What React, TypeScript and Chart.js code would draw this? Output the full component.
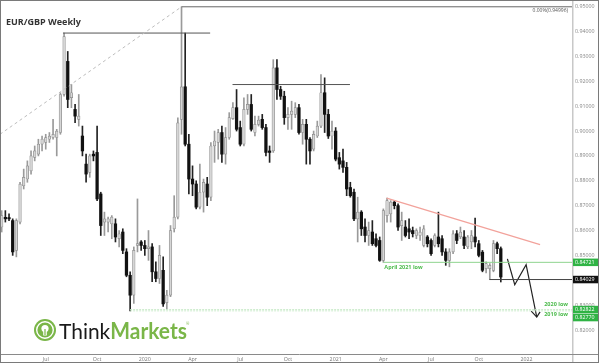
import React, { useEffect, useRef } from "react";
import { Chart, registerables } from "chart.js";

Chart.register(...registerables);

// Weekly EUR/GBP candles (index 0 = week of 8 Apr 2019)
const opens = [
  0.8614, 0.8653, 0.8652, 0.8640, 0.8520, 0.8634, 0.8780, 0.8807, 0.8840, 0.8894,
  0.8907, 0.8947, 0.8954, 0.8967, 0.8974, 0.8974, 0.8994, 0.9147, 0.9280, 0.9134,
  0.9087, 0.9047, 0.8980, 0.8867, 0.8834, 0.8907, 0.8914, 0.8747, 0.8634, 0.8634,
  0.8627, 0.8627, 0.8567, 0.8594, 0.8514, 0.8420, 0.8340, 0.8540, 0.8554, 0.8540,
  0.8527, 0.8534, 0.8434, 0.8407, 0.8440, 0.8310, 0.8340, 0.8607, 0.8654, 0.9047,
  0.9178, 0.8947, 0.8807, 0.8787, 0.8694, 0.8754, 0.8787, 0.8734, 0.8940, 0.8954,
  0.8994, 0.8907, 0.8974, 0.9050, 0.9094, 0.9014, 0.8947, 0.9087, 0.9107, 0.8994,
  0.9027, 0.9047, 0.9014, 0.8920, 0.8920, 0.9254, 0.9167, 0.9140, 0.9054, 0.9067,
  0.9067, 0.9094, 0.8994, 0.9027, 0.8967, 0.8927, 0.8980, 0.9020, 0.9154, 0.9067,
  0.8980, 0.9000, 0.8893, 0.8880, 0.8854, 0.8773, 0.8754, 0.8647, 0.8674, 0.8614,
  0.8580, 0.8594, 0.8567, 0.8560, 0.8480, 0.8660, 0.8667, 0.8714, 0.8700, 0.8620,
  0.8614, 0.8607, 0.8600, 0.8580, 0.8580, 0.8540, 0.8574, 0.8560, 0.8540, 0.8574,
  0.8567, 0.8514, 0.8480, 0.8514, 0.8587, 0.8574, 0.8574, 0.8534, 0.8554, 0.8574,
  0.8547, 0.8513, 0.8447, 0.8447, 0.8440, 0.8547, 0.8527,
];
const highs = [
  0.8680, 0.8680, 0.8667, 0.8647, 0.8647, 0.8794, 0.8847, 0.8880, 0.8920, 0.8940,
  0.8967, 0.8980, 0.8987, 0.8994, 0.9047, 0.9007, 0.9154, 0.9394, 0.9320, 0.9187,
  0.9107, 0.9147, 0.9020, 0.8907, 0.8907, 0.8920, 0.9020, 0.8754, 0.8674, 0.8654,
  0.8660, 0.8647, 0.8600, 0.8607, 0.8527, 0.8434, 0.8534, 0.8727, 0.8560, 0.8560,
  0.8600, 0.8547, 0.8474, 0.8540, 0.8494, 0.8360, 0.8620, 0.8740, 0.9053, 0.94996,
  0.9394, 0.8987, 0.8860, 0.8800, 0.8867, 0.8807, 0.8814, 0.8954, 0.9000, 0.9007,
  0.9020, 0.9014, 0.9074, 0.9114, 0.9167, 0.9040, 0.9134, 0.9147, 0.9147, 0.9060,
  0.9060, 0.9067, 0.9027, 0.8940, 0.9287, 0.9287, 0.9180, 0.9160, 0.9094, 0.9120,
  0.9114, 0.9107, 0.9047, 0.9047, 0.8974, 0.9000, 0.9040, 0.9227, 0.9214, 0.9087,
  0.9040, 0.9014, 0.8914, 0.8927, 0.8874, 0.8794, 0.8767, 0.8734, 0.8680, 0.8647,
  0.8634, 0.8640, 0.8587, 0.8574, 0.8687, 0.8730, 0.8720, 0.8720, 0.8707, 0.8674,
  0.8640, 0.8647, 0.8614, 0.8607, 0.8614, 0.8620, 0.8580, 0.8567, 0.8587, 0.8674,
  0.8580, 0.8527, 0.8527, 0.8600, 0.8600, 0.8614, 0.8600, 0.8580, 0.8600, 0.8650,
  0.8560, 0.8520, 0.8474, 0.8467, 0.8560, 0.8554, 0.8534,
];
const lows = [
  0.8594, 0.8634, 0.8640, 0.8500, 0.8494, 0.8627, 0.8767, 0.8794, 0.8827, 0.8880,
  0.8900, 0.8920, 0.8927, 0.8954, 0.8967, 0.8900, 0.8987, 0.9140, 0.9094, 0.9094,
  0.9034, 0.9020, 0.8900, 0.8794, 0.8814, 0.8880, 0.8720, 0.8580, 0.8580, 0.8594,
  0.8567, 0.8554, 0.8534, 0.8507, 0.8414, 0.8277, 0.8307, 0.8514, 0.8520, 0.8500,
  0.8480, 0.8394, 0.8394, 0.8387, 0.8295, 0.8282, 0.8334, 0.8594, 0.8647, 0.8987,
  0.8940, 0.8747, 0.8740, 0.8687, 0.8687, 0.8674, 0.8700, 0.8720, 0.8874, 0.8887,
  0.8874, 0.8867, 0.8967, 0.9047, 0.9000, 0.8940, 0.8940, 0.9067, 0.9000, 0.8980,
  0.9020, 0.9007, 0.8900, 0.8874, 0.8914, 0.9127, 0.9127, 0.9027, 0.9007, 0.9007,
  0.9054, 0.8987, 0.8947, 0.8867, 0.8867, 0.8920, 0.8974, 0.9014, 0.8994, 0.8970,
  0.8927, 0.8880, 0.8847, 0.8834, 0.8740, 0.8734, 0.8640, 0.8554, 0.8580, 0.8554,
  0.8540, 0.8540, 0.8534, 0.8476, 0.84721, 0.8634, 0.8634, 0.8687, 0.8600, 0.8560,
  0.8574, 0.8567, 0.8574, 0.8567, 0.8560, 0.8534, 0.8534, 0.8500, 0.8534, 0.8534,
  0.8500, 0.8460, 0.8454, 0.8507, 0.8547, 0.8567, 0.8527, 0.8527, 0.8527, 0.8534,
  0.8494, 0.8434, 0.8430, 0.8403, 0.8434, 0.8507, 0.8393,
];
const closes = [
  0.8660, 0.8647, 0.8647, 0.8514, 0.8640, 0.8787, 0.8814, 0.8860, 0.8900, 0.8920,
  0.8947, 0.8967, 0.8974, 0.8980, 0.8987, 0.9000, 0.9147, 0.9380, 0.9127, 0.9154,
  0.9060, 0.9060, 0.8920, 0.8827, 0.8900, 0.8900, 0.8727, 0.8620, 0.8647, 0.8647,
  0.8654, 0.8574, 0.8587, 0.8520, 0.8420, 0.8340, 0.8520, 0.8547, 0.8540, 0.8527,
  0.8534, 0.8434, 0.8407, 0.8500, 0.8305, 0.8340, 0.8600, 0.8654, 0.9033, 0.9178,
  0.8947, 0.8807, 0.8787, 0.8694, 0.8754, 0.8794, 0.8734, 0.8940, 0.8960, 0.8994,
  0.8907, 0.8974, 0.9054, 0.9094, 0.9007, 0.8947, 0.9087, 0.9107, 0.9007, 0.9027,
  0.9044, 0.9014, 0.8914, 0.8914, 0.9254, 0.9167, 0.9140, 0.9054, 0.9067, 0.9080,
  0.9094, 0.8994, 0.9027, 0.8967, 0.8920, 0.8987, 0.9020, 0.9154, 0.9067, 0.8980,
  0.9000, 0.8887, 0.8867, 0.8854, 0.8767, 0.8740, 0.8647, 0.8674, 0.8607, 0.8580,
  0.8600, 0.8547, 0.8540, 0.8480, 0.8680, 0.8720, 0.8714, 0.8700, 0.8614, 0.8640,
  0.8580, 0.8594, 0.8587, 0.8600, 0.8594, 0.8607, 0.8547, 0.8507, 0.8580, 0.8547,
  0.8514, 0.8480, 0.8514, 0.8587, 0.8560, 0.8594, 0.8540, 0.8574, 0.8580, 0.8554,
  0.8500, 0.8440, 0.8467, 0.8460, 0.8547, 0.8527, 0.8413,
];

// Axis ticks
const xTickIdx = [12, 26, 39, 52, 65, 78, 91, 104, 117, 130, 143];
const xTickLabels = ["Jul", "Oct", "2020", "Apr", "Jul", "Oct", "2021", "Apr", "Jul", "Oct", "2022"];
const yTicks = [0.82, 0.83, 0.84, 0.85, 0.86, 0.87, 0.88, 0.89, 0.9, 0.91, 0.92, 0.93, 0.94, 0.95];

// Annotations (data space: x = week index, y = price)
const xMinIdx = -0.46;
const xMaxIdx = 155.4;
const fibLevel = 0.94996;
const fibStart = 49;
const diagonalLine = [{ x: xMinIdx, y: 0.8987 }, { x: 49, y: 0.94996 }];
const high2019Line = [{ x: 16.7, y: 0.9394 }, { x: 56.8, y: 0.9394 }];
const dec2020Line = [{ x: 62.9, y: 0.9187 }, { x: 94.9, y: 0.9187 }];
const trendLine = [{ x: 104.9, y: 0.873 }, { x: 146.7, y: 0.8543 }];
const april2021Low = 0.84721;
const april2021Start = 104;
const recentLow = 0.84029;
const recentLowStart = 132.9;
const low2020 = 0.82822;
const low2019 = 0.8277;
const lowsStart = 35;
const zigzag = [
  { x: 137.8, y: 0.8486 },
  { x: 139.8, y: 0.8382 },
  { x: 142.9, y: 0.8463 },
  { x: 145.8, y: 0.8252 },
];
const arrowHead = [
  { x: 144.3, y: 0.8276 },
  { x: 145.8, y: 0.8252 },
  { x: 146.7, y: 0.8273 },
];
const tagValues = [0.84721, 0.84029, 0.82822, 0.8277];
const tagColors = ["#2fb344", "#111111", "#2fb344", "#2fb344"];

const FONT = "'Open Sans', 'DejaVu Sans', sans-serif";

const hLine = (v: number, x0: number, x1: number) => [
  { x: x0, y: v },
  { x: x1, y: v },
];

const lineDs = (data: any[], color: string, width = 1, dash: number[] = []) => ({
  type: "line" as const,
  data,
  borderColor: color,
  borderWidth: width,
  borderDash: dash,
  pointRadius: 0,
  fill: false,
  tension: 0,
  order: 0,
});

const decor = {
  id: "decor",
  beforeDraw(chart: any) {
    const { ctx, width, height } = chart;
    ctx.save();
    ctx.fillStyle = "#ffffff";
    ctx.fillRect(0, 0, width, height);
    ctx.restore();
  },
  afterDraw(chart: any) {
    const { ctx, chartArea: a, scales } = chart;
    const ys = scales.y;
    ctx.save();
    // frame
    ctx.strokeStyle = "#c8c8c8";
    ctx.lineWidth = 1.5;
    ctx.beginPath();
    ctx.moveTo(a.right + 0.75, 0);
    ctx.lineTo(a.right + 0.75, chart.height);
    ctx.stroke();
    ctx.strokeStyle = "#8a8a8a";
    ctx.lineWidth = 1;
    ctx.beginPath();
    ctx.moveTo(0, Math.round(a.bottom) + 0.5);
    ctx.lineTo(599, Math.round(a.bottom) + 0.5);
    ctx.stroke();
    ctx.strokeStyle = "#7a7a7a";
    ctx.strokeRect(0.5, 0.5, 598, chart.height - 1);

    // title
    ctx.fillStyle = "#333333";
    ctx.font = `bold 9px ${FONT}`;
    ctx.textBaseline = "alphabetic";
    ctx.textAlign = "left";
    ctx.fillText("EUR/GBP Weekly", 6, 25);

    // fib label
    ctx.fillStyle = "#555555";
    ctx.font = `5px ${FONT}`;
    ctx.textAlign = "right";
    ctx.textBaseline = "middle";
    ctx.fillText("0.00%(0.94996)", a.right - 4, ys.getPixelForValue(fibLevel) + 4);

    // green labels
    ctx.fillStyle = "#4cbb4c";
    ctx.font = `bold 5.5px ${FONT}`;
    ctx.textAlign = "left";
    ctx.fillText("April 2021 low", scales.x.getPixelForValue(april2021Start) + 1, ys.getPixelForValue(april2021Low) + 5);
    ctx.textAlign = "right";
    ctx.fillText("2020 low", a.right - 4, ys.getPixelForValue(low2020) - 5.5);
    ctx.fillText("2019 low", a.right - 4, ys.getPixelForValue(low2019) + 4);

    // price tags
    let prevBottom = -100;
    const th = 7.5;
    tagValues.forEach((v, i) => {
      let cy = ys.getPixelForValue(v);
      if (cy - th / 2 < prevBottom) cy = prevBottom + th / 2 + 0.5;
      prevBottom = cy + th / 2;
      ctx.fillStyle = tagColors[i];
      ctx.fillRect(a.right + 1, cy - th / 2, 25, th);
      ctx.fillStyle = "#ffffff";
      ctx.font = `5.3px ${FONT}`;
      ctx.textAlign = "left";
      ctx.textBaseline = "middle";
      ctx.fillText(v.toFixed(5), a.right + 3, cy + 0.3);
    });

    // logo
    const cx = 45, cy = 330;
    ctx.fillStyle = "#7ab648";
    ctx.beginPath();
    ctx.arc(cx, cy, 11, 0, Math.PI * 2);
    ctx.fill();
    ctx.strokeStyle = "#ffffff";
    ctx.lineWidth = 1.4;
    ctx.beginPath();
    ctx.arc(cx, cy, 8.3, 0, Math.PI * 2);
    ctx.stroke();
    ctx.fillStyle = "#ffffff";
    ctx.beginPath();
    ctx.arc(cx, cy - 1.5, 3.6, 0, Math.PI * 2);
    ctx.fill();
    ctx.fillRect(cx - 1.8, cy + 1, 3.6, 4.5);
    ctx.fillStyle = "#7ab648";
    ctx.fillRect(cx - 0.6, cy - 1, 1.2, 6);

    ctx.textAlign = "left";
    ctx.textBaseline = "alphabetic";
    ctx.font = `22px Lato, ${FONT}`;
    const w1 = ctx.measureText("Think").width;
    const w2 = ctx.measureText("Markets").width;
    const sx = 126 / (w1 + w2);
    ctx.save();
    ctx.translate(59, 339);
    ctx.scale(sx, 1);
    ctx.fillStyle = "#1a1a1a";
    ctx.fillText("Think", 0, 0);
    ctx.fillStyle = "#7ab648";
    ctx.font = `bold 22px Lato, ${FONT}`;
    ctx.fillText("Markets", w1, 0);
    ctx.restore();
    ctx.fillStyle = "#7ab648";
    ctx.font = `4px ${FONT}`;
    ctx.fillText("®", 186, 325);
    ctx.restore();
  },
};

export default function App() {
  const ref = useRef<HTMLCanvasElement>(null);
  useEffect(() => {
    if (!ref.current) return;
    const up = opens.map((o, i) => closes[i] >= o);
    const bodies = opens.map((o, i) => ({ x: i, y: [o, closes[i]] }));
    const wicks = opens.map((_, i) => ({ x: i, y: [lows[i], highs[i]] }));
    const chart = new Chart(ref.current, {
      type: "bar",
      data: {
        datasets: [
          lineDs(hLine(fibLevel, fibStart, xMaxIdx), "#666666"),
          lineDs(diagonalLine, "#bdbdbd", 1, [3, 3]),
          lineDs(high2019Line, "#555555"),
          lineDs(dec2020Line, "#555555"),
          lineDs(trendLine, "#f2a29b", 1.2),
          lineDs(hLine(april2021Low, april2021Start, xMaxIdx), "#8fd48f"),
          lineDs(hLine(recentLow, recentLowStart, xMaxIdx), "#444444"),
          lineDs(hLine(low2020, lowsStart, xMaxIdx), "#cdeccd", 1, [2, 1]),
          lineDs(hLine(low2019, lowsStart, xMaxIdx), "#cdeccd", 1, [2, 1]),
          lineDs(zigzag, "#222222", 1.2),
          lineDs(arrowHead, "#222222", 1.2),
          {
            type: "bar",
            data: bodies as any,
            backgroundColor: up.map((u) => (u ? "#d6d6d6" : "#111111")),
            borderColor: up.map((u) => (u ? "#8c8c8c" : "#111111")),
            borderWidth: up.map((u) => (u ? 0.7 : 0)),
            borderSkipped: false,
            barThickness: 2.6,
            minBarLength: 1,
            grouped: false,
            order: 1,
          } as any,
          {
            type: "bar",
            data: wicks as any,
            backgroundColor: up.map((u) => (u ? "#9a9a9a" : "#222222")),
            borderWidth: 0,
            barThickness: 1,
            grouped: false,
            order: 2,
          } as any,
        ],
      },
      options: {
        animation: false,
        responsive: false,
        devicePixelRatio: 1,
        events: [],
        layout: { padding: { top: 1, left: 0, right: 0, bottom: 0 } },
        plugins: { legend: { display: false }, tooltip: { enabled: false } },
        scales: {
          x: {
            type: "linear",
            min: xMinIdx,
            max: xMaxIdx,
            offset: false,
            grid: { display: false, drawTicks: false },
            border: { display: false },
            ticks: {
              autoSkip: false,
              maxRotation: 0,
              padding: 2,
              color: "#777777",
              font: { size: 5.3, family: FONT },
              callback: (_v: any, i: number) => xTickLabels[i] ?? "",
            },
            afterBuildTicks: (s: any) => {
              s.ticks = xTickIdx.map((v) => ({ value: v }));
            },
            afterFit: (s: any) => {
              s.height = 9;
              s.paddingLeft = 0;
              s.paddingRight = 0;
            },
          },
          y: {
            type: "linear",
            position: "right",
            min: 0.81035,
            max: 0.95229,
            grid: { display: false, drawTicks: false },
            border: { display: false },
            ticks: {
              padding: 3,
              color: "#888888",
              font: { size: 5.3, family: FONT },
              callback: (v: any) => Number(v).toFixed(5),
            },
            afterBuildTicks: (s: any) => {
              s.ticks = yTicks.map((v) => ({ value: v }));
            },
            afterFit: (s: any) => {
              s.width = 28;
              s.paddingTop = 0;
              s.paddingBottom = 0;
            },
          },
        },
      } as any,
      plugins: [decor],
    });
    return () => chart.destroy();
  }, []);
  return (
    <div style={{ position: "fixed", left: 0, top: 0, width: 600, height: 363 }}>
      <canvas ref={ref} width={600} height={363} style={{ display: "block", width: 600, height: 363 }} />
    </div>
  );
}
